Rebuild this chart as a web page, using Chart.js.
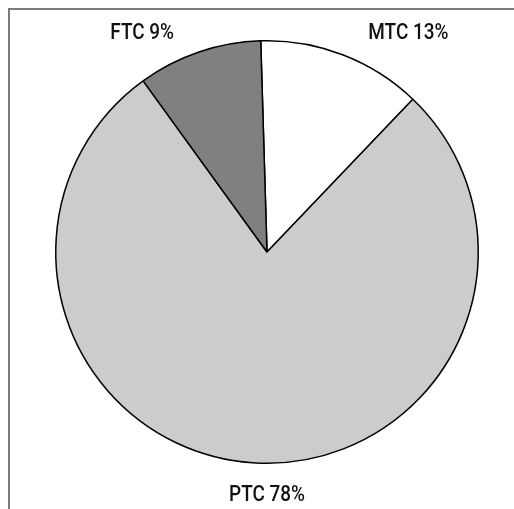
<!DOCTYPE html>
<html>
<head>
<meta charset="utf-8">
<script src="https://cdn.jsdelivr.net/npm/chart.js@4"></script>
<style>
  html, body { margin: 0; padding: 0; background: #fff; }
  #wrap { position: relative; width: 514px; height: 509px; }
  #frame { position: absolute; left: 8px; top: 8px; right: 0; bottom: 0;
           border-top: 2px solid #7a7a7a; border-left: 2px solid #7a7a7a; }
  canvas { position: absolute; left: 0; top: 0; }
</style>
</head>
<body>
<div id="wrap">
  <div id="frame"></div>
  <canvas id="share-chart" width="514" height="509"></canvas>
</div>
<script>
/* ============================================= */
/*                  Pie Data                     */
/* ============================================= */

const categories = ["MTC", "PTC", "FTC"];
const shares = [12.6, 77.9, 9.5];
const shareLabels = ["13%", "78%", "9%"];
const sliceColors = ['#ffffff', '#cccccc', '#808080'];

// where each label sits: angle (deg, clockwise from top) and distance past the rim
const labelAngles = [32.9, 180, -29.8];
const labelGaps = [49, 32, 40];

// condensed look: regular sans squeezed horizontally
const labelFont = "500 22px Roboto, 'Liberation Sans', sans-serif";
const squeeze = 0.86;

/* ============================================= */
/*              Outside Labels                   */
/* ============================================= */

const outsideLabels = {
    id: 'outsideLabels',
    afterDatasetsDraw(chart) {
        const arc = chart.getDatasetMeta(0).data[0];
        if (!arc) return;
        const ctx = chart.ctx;
        ctx.save();
        ctx.font = labelFont;
        ctx.fillStyle = '#111';
        ctx.textAlign = 'center';
        ctx.textBaseline = 'middle';
        categories.forEach((name, i) => {
            const a = labelAngles[i] * Math.PI / 180;
            const d = arc.outerRadius + labelGaps[i];
            const x = arc.x + d * Math.sin(a);
            const y = arc.y - d * Math.cos(a);
            ctx.save();
            ctx.translate(x, y);
            ctx.scale(squeeze, 1);
            ctx.fillText(name + ' ' + shareLabels[i], 0, 0);
            ctx.restore();
        });
        ctx.restore();
    }
};

const shareCanvas = document.getElementById('share-chart');

let shareChart = new Chart(shareCanvas, {
    type: 'pie',
    data: {
        labels: categories,
        datasets: [{
            data: shares,
            backgroundColor: sliceColors,
            borderColor: '#000',
            borderWidth: 1.5
        }]
    },
    options: {
        responsive: false,
        animation: { duration: 0 },
        rotation: -1.7,
        layout: {
            padding: { left: 55, right: 35, top: 40, bottom: 45 }
        },
        plugins: {
            legend: { display: false },
            tooltip: { enabled: false }
        }
    },
    plugins: [outsideLabels]
});
</script>
</body>
</html>
